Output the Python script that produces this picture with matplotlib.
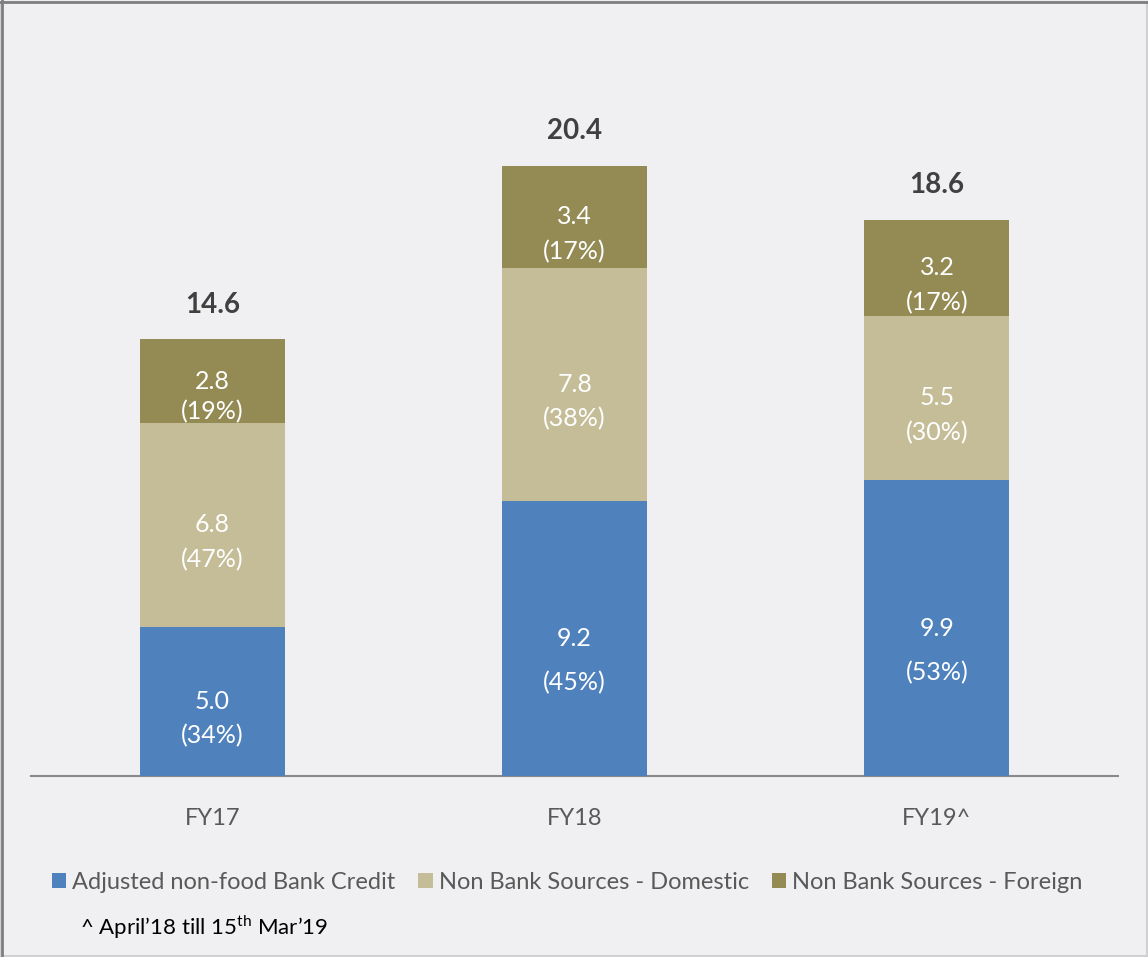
import numpy as np
import matplotlib
matplotlib.use("Agg")
import matplotlib.pyplot as plt
from matplotlib.patches import Rectangle, Patch

plt.rcParams["font.family"] = ["Lato", "DejaVu Sans"]
plt.rcParams["mathtext.fontset"] = "custom"
plt.rcParams["mathtext.rm"] = "Lato"

years = ["FY17", "FY18", "FY19^"]
bank_credit = [5.0, 9.2, 9.9]
nb_domestic = [6.8, 7.8, 5.5]
nb_foreign = [2.8, 3.4, 3.2]
totals = [14.6, 20.4, 18.6]
pct_bank = [34, 45, 53]
pct_dom = [47, 38, 30]
pct_for = [19, 17, 17]

series_names = ["Adjusted non-food Bank Credit",
                "Non Bank Sources - Domestic",
                "Non Bank Sources - Foreign"]
colors = ["#4f81bd", "#c4bd97", "#948a54"]
BG = "#f0f0f2"

fig = plt.figure(figsize=(11.48, 9.57), dpi=100, facecolor=BG)
ax = fig.add_axes([0.027, 0.189, 0.947, 0.75])
ax.set_facecolor("none")

x = np.arange(len(years))
w = 0.4
bottom = np.zeros(len(years))
segments = [(bank_credit, pct_bank), (nb_domestic, pct_dom), (nb_foreign, pct_for)]
for (vals, pcts), col in zip(segments, colors):
    vals = np.array(vals)
    ax.bar(x, vals, w, bottom=bottom, color=col, edgecolor="none", zorder=3)
    for xi, b, v, p in zip(x, bottom, vals, pcts):
        yc = b + v / 2
        # label gap grows a little with tall segments, like the original
        off = -22 if v < 3 else (-32 if v > 9 else -25)
        ax.annotate(f"{v:.1f}", (xi, yc), ha="center", va="center",
                    color="white", fontsize=18, zorder=4)
        ax.annotate(f"({p}%)", (xi, yc), xytext=(0, off), textcoords="offset points",
                    ha="center", va="center", color="white", fontsize=18, zorder=4)
    bottom += vals

for xi, t in zip(x, totals):
    ax.annotate(f"{t:.1f}", (xi, t), xytext=(0, 25), textcoords="offset points",
                ha="center", va="center", color="#404040", fontsize=20,
                fontweight="bold")

ax.set_xlim(-0.5, 2.5)
ax.set_ylim(0, 24)
ax.set_xticks(x)
ax.set_xticklabels(years, fontsize=17, color="#595959")
ax.tick_params(axis="x", length=0, pad=23)
ax.set_yticks([])
for s in ["left", "right", "top"]:
    ax.spines[s].set_visible(False)
ax.spines["bottom"].set_color("#898989")
ax.spines["bottom"].set_linewidth(1.5)

handles = [Patch(facecolor=c, edgecolor="none") for c in colors]
fig.legend(handles, series_names, loc="center", bbox_to_anchor=(0.494, 0.078),
           ncol=3, frameon=False, fontsize=17, labelcolor="#595959",
           handlelength=0.6, handleheight=0.6, handletextpad=0.25,
           columnspacing=1.0)

fig.text(0.07, 0.031, r"^ April’18 till 15$^{\mathrm{th}}$ Mar’19", fontsize=16,
         color="black", ha="left", va="center")

# frame around the panel
fig.add_artist(Rectangle((0.001, 0.001), 0.998, 0.997, transform=fig.transFigure,
                         fill=False, edgecolor="#d0d0d2", linewidth=1.5))
fig.add_artist(plt.Line2D([0.002, 0.002], [0, 1], transform=fig.transFigure,
                          color="#7f7f7f", linewidth=2))
fig.add_artist(plt.Line2D([0, 1], [0.998, 0.998], transform=fig.transFigure,
                          color="#7f7f7f", linewidth=2))

fig.savefig("out.png", dpi=100, facecolor=BG)
